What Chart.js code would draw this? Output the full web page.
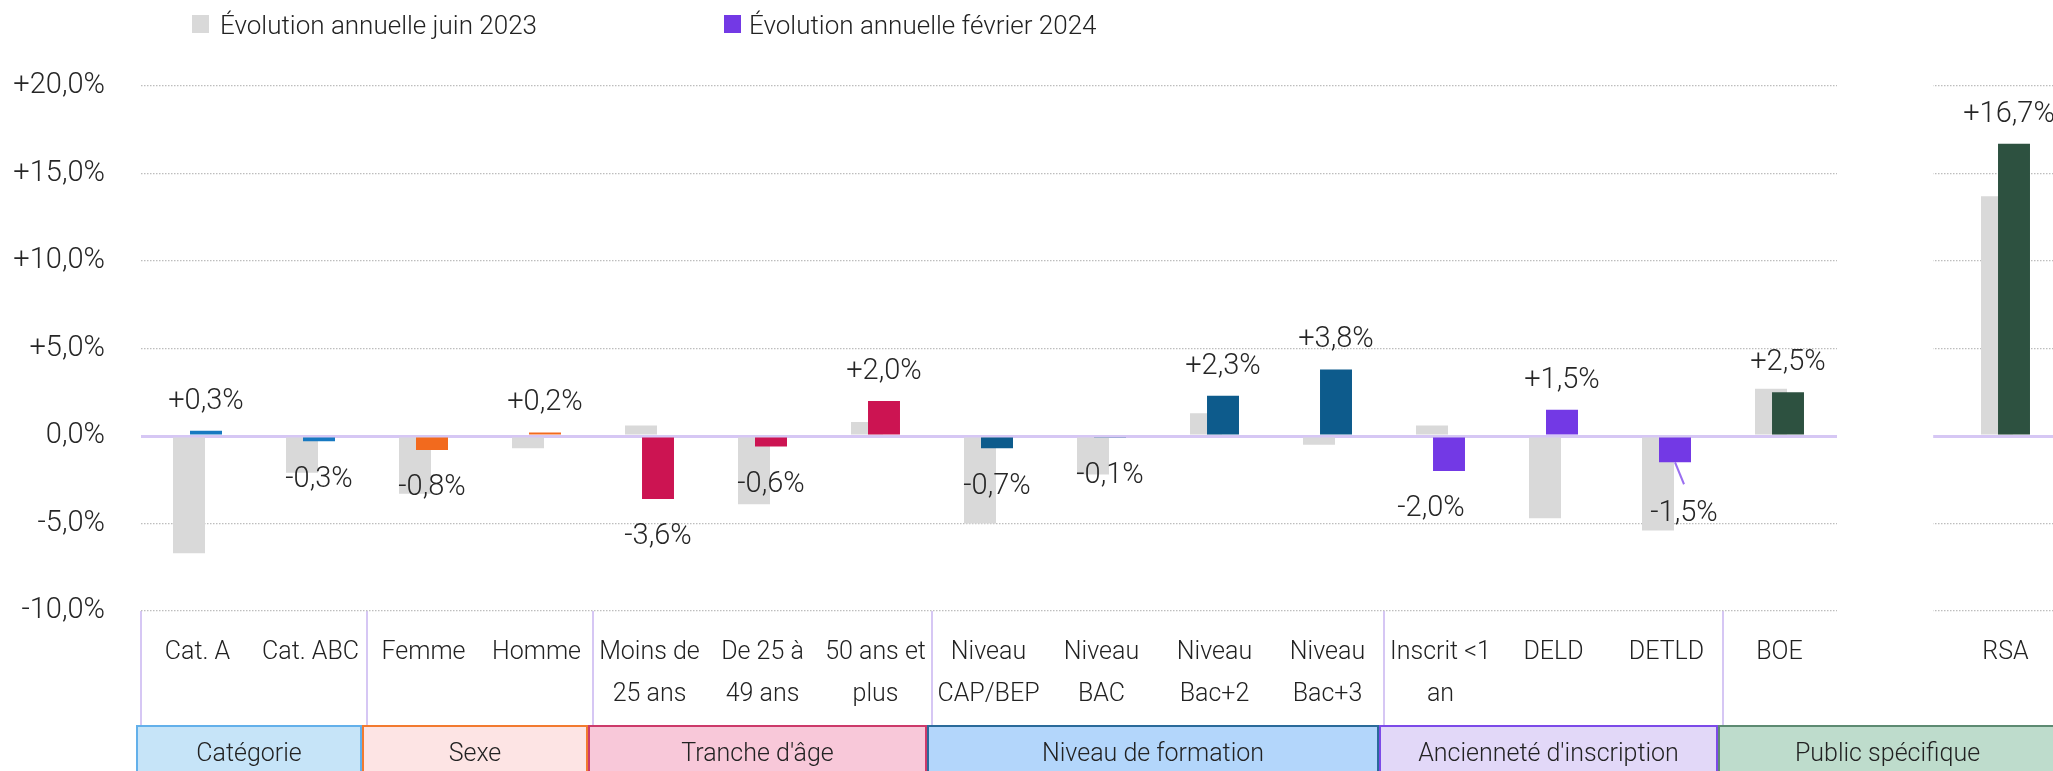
<!DOCTYPE html>
<html lang="fr">
<head>
<meta charset="utf-8">
<script src="https://cdn.jsdelivr.net/npm/chart.js@4/dist/chart.umd.min.js"></script>
<style>
  html, body { margin: 0; padding: 0; background: #fff; overflow: hidden; width: 2053px; height: 771px; }
  #wrap { position: relative; width: 2053px; height: 771px; overflow: hidden; }
  canvas { position: absolute; left: 0; top: 0; }
  .leg { position: absolute; top: 8px; height: 34px; line-height: 34px; font-family: Roboto, "Open Sans", sans-serif; font-weight: 300; font-size: 26px; color: #222; white-space: nowrap; }
  .sw { position: absolute; top: 15px; width: 17px; height: 18px; }
</style>
</head>
<body>
<div id="wrap">
  <canvas id="c" width="2080" height="771"></canvas>
  <div class="sw" style="left:192px;background:#d9d9d9"></div>
  <div class="leg" style="left:220px">Évolution annuelle juin 2023</div>
  <div class="sw" style="left:724px;background:#7339e5"></div>
  <div class="leg" style="left:749px">Évolution annuelle février 2024</div>
</div>
<script>
// ---------- DATA ----------
const categories = [
  "Cat. A", "Cat. ABC", "Femme", "Homme",
  ["Moins de", "25 ans"], ["De 25 à", "49 ans"], ["50 ans et", "plus"],
  ["Niveau", "CAP/BEP"], ["Niveau", "BAC"], ["Niveau", "Bac+2"], ["Niveau", "Bac+3"],
  ["Inscrit <1", "an"], "DELD", "DETLD", "BOE", "", "RSA"
];
const seriesNames = ["Évolution annuelle juin 2023", "Évolution annuelle février 2024"];
const juin2023 = [-6.7, -2.1, -3.3, -0.7, 0.6, -3.9, 0.8, -5.0, -2.2, 1.3, -0.5, 0.6, -4.7, -5.4, 2.7, null, 13.7];
const fevrier2024 = [0.3, -0.3, -0.8, 0.2, -3.6, -0.6, 2.0, -0.7, -0.1, 2.3, 3.8, -2.0, 1.5, -1.5, 2.5, null, 16.7];
const groupNames = ["Catégorie", "Sexe", "Tranche d'âge", "Niveau de formation", "Ancienneté d'inscription", "Public spécifique"];
const groupStart = [0, 2, 4, 7, 11, 14];
const groupEnd = [2, 4, 7, 11, 14, 17];
const yTickValues = [-10, -5, 0, 5, 10, 15, 20];
const yTickLabels = ["-10,0%", "-5,0%", "0,0%", "+5,0%", "+10,0%", "+15,0%", "+20,0%"];

// ---------- STYLE ----------
const groupBar = ["#1779c1", "#f26a1e", "#cc1452", "#0d5b8c", "#7339e5", "#2d5140"];
const groupFill = ["#c6e4f8", "#fde4e4", "#f8c8d9", "#b3d6fb", "#e2d8f8", "#bedccc"];
const groupBorder = ["#63b0ea", "#f27a30", "#cc3a6a", "#2a6a9a", "#7c4ae8", "#5d8a72"];
const GREY = "#d9d9d9";
const LAVENDER = "#d6c7f4";
const FONT = "Roboto, 'Open Sans', sans-serif";
const GAP_INDEX = 15;
const labelNudge = { 11: { dx: -18, dy: 0 }, 13: { dx: 9, dy: 13, leader: true }, 16: { dx: -5, dy: 0 } };

function groupOf(i) {
  for (let g = 0; g < groupStart.length; g++) if (i >= groupStart[g] && i < groupEnd[g]) return g;
  return 0;
}
const coloredBars = categories.map((_, i) => groupBar[groupOf(i)]);
const fmt = v => (v > 0 ? "+" : "") + v.toFixed(1).replace(".", ",") + "%";

const plugin = {
  id: "custom",
  beforeDatasetsDraw(chart) {
    const { ctx, chartArea } = chart;
    const x = chart.scales.x;
    const w = x.getPixelForValue(1) - x.getPixelForValue(0);
    const gs = x.getPixelForValue(GAP_INDEX) - w / 2;
    const ge = gs + w * 0.86;
    ctx.save();
    ctx.fillStyle = "#fff";
    ctx.fillRect(gs + 1, chartArea.top - 4, ge - gs - 1, chartArea.bottom - chartArea.top + 8);
    ctx.restore();
    // grey series beneath, coloured series on top
    chart.getSortedVisibleDatasetMetas().forEach(m => m.controller.draw());
    return false;
  },
  afterDraw(chart) {
    const { ctx } = chart;
    const x = chart.scales.x;
    const w = x.getPixelForValue(1) - x.getPixelForValue(0);
    // data labels for février 2024
    const meta = chart.getDatasetMeta(1);
    ctx.save();
    ctx.font = "300 29px " + FONT;
    ctx.fillStyle = "#262626";
    ctx.textAlign = "center";
    ctx.textBaseline = "middle";
    meta.data.forEach((bar, i) => {
      const v = fevrier2024[i];
      if (v === null || v === undefined) return;
      const n = labelNudge[i] || { dx: 0, dy: 0 };
      let ly = v >= 0 ? bar.y - 29.5 : bar.y + 38;
      const lx = bar.x + n.dx;
      ly += n.dy;
      if (n.leader) {
        ctx.save();
        ctx.strokeStyle = "#9a6ff0";
        ctx.lineWidth = 2;
        ctx.beginPath();
        ctx.moveTo(bar.x, bar.y);
        ctx.lineTo(lx, ly - 29);
        ctx.stroke();
        ctx.restore();
      }
      ctx.fillText(fmt(v), lx, ly);
    });
    // group boxes
    const top = x.bottom;
    groupNames.forEach((name, g) => {
      const x0 = x.getPixelForValue(groupStart[g]) - w / 2 - 5;
      const x1 = x.getPixelForValue(groupEnd[g] - 1) + w / 2 - 5;
      ctx.fillStyle = groupFill[g];
      ctx.fillRect(x0, top, x1 - x0, 70);
      ctx.strokeStyle = groupBorder[g];
      ctx.lineWidth = 2;
      ctx.strokeRect(x0 + 1, top + 1, x1 - x0 - 2, 70);
      ctx.fillStyle = "#222";
      ctx.font = "300 25px " + FONT;
      ctx.fillText(name, (x0 + x1) / 2, top + 30);
    });
    ctx.restore();
  }
};

const dividers = groupStart.slice();

new Chart(document.getElementById("c"), {
  type: "bar",
  data: {
    labels: categories,
    datasets: [
      { label: seriesNames[0], data: juin2023, backgroundColor: GREY, order: 0 },
      { label: seriesNames[1], data: fevrier2024, backgroundColor: coloredBars, order: 1 }
    ]
  },
  options: {
    responsive: false,
    devicePixelRatio: 1,
    animation: false,
    events: [],
    categoryPercentage: 0.301,
    barPercentage: 1.88,
    layout: { padding: { top: 86, bottom: 46, left: 0, right: 18 } },
    plugins: { legend: { display: false }, tooltip: { enabled: false } },
    font: { family: FONT },
    scales: {
      x: {
        type: "category",
        offset: true,
        grid: {
          offset: true,
          drawOnChartArea: false,
          drawTicks: true,
          tickLength: 114,
          lineWidth: 2,
          tickWidth: 2,
          color: c => dividers.includes(c.index) ? LAVENDER : "rgba(0,0,0,0)",
          tickColor: c => dividers.includes(c.index) ? LAVENDER : "rgba(0,0,0,0)"
        },
        border: { display: false },
        ticks: {
          autoSkip: false, maxRotation: 0, minRotation: 0, padding: -93,
          color: "#222",
          font: { family: FONT, size: 25, weight: 300, lineHeight: 1.68 }
        },
        afterFit: s => { s.height = 114; }
      },
      y: {
        min: -10, max: 20,
        afterBuildTicks: s => { s.ticks = yTickValues.map(v => ({ value: v })); },
        ticks: {
          padding: 36,
          color: "#262626",
          font: { family: FONT, size: 29, weight: 300 },
          callback: v => yTickLabels[yTickValues.indexOf(v)]
        },
        grid: {
          drawTicks: false,
          color: c => (c.tick && c.tick.value === 0) ? LAVENDER : "#bdbdbd",
          lineWidth: c => (c.tick && c.tick.value === 0) ? 3 : 1.2
        },
        border: { display: false, dash: c => (c.tick && c.tick.value === 0) ? [] : [1.5, 1.5] },
        afterFit: s => { s.width = 141; }
      }
    }
  },
  plugins: [plugin]
});
</script>
</body>
</html>
